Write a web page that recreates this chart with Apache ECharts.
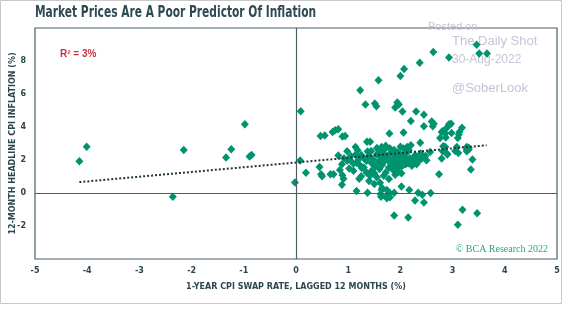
<!DOCTYPE html>
<html>
<head>
<meta charset="utf-8">
<script src="https://cdn.jsdelivr.net/npm/echarts@6/dist/echarts.min.js"></script>
<style>
html,body{margin:0;padding:0;background:#fff;}
#chart{width:564px;height:333px;}
</style>
</head>
<body>
<div id="chart"></div>
<script>
// 1-year CPI swap rate, lagged 12 months (%)
const swapRate = [
-4.15,-4.01,-2.36,-2.15,-1.34,-1.24,-0.98,-0.89,-0.85,-0.02,0.09,0.08,
2.63,2.93,3.46,3.51,3.66,2.37,2.07,2.00,1.58,1.23,1.33,1.51,1.54,1.94,1.97,1.90,2.04,2.30,2.45,2.20,
2.60,2.64,2.62,2.45,2.89,2.93,2.81,2.86,2.97,3.18,2.98,3.12,3.10,2.76,2.87,1.79,2.06,
0.47,0.55,0.70,0.75,0.81,0.89,0.94,1.36,1.42,0.98,1.14,1.18,2.38,0.81,1.64,1.72,1.80,2.13,2.16,2.57,
2.84,3.27,3.31,2.79,3.13,2.82,3.08,3.05,2.90,2.79,3.38,3.35,2.74,3.11,2.20,2.06,2.12,
0.19,0.45,0.48,0.50,0.66,0.72,0.88,0.84,0.89,0.91,0.88,1.03,1.10,1.02,1.16,1.23,1.26,1.25,1.21,1.16,
1.37,1.40,1.37,1.61,1.64,1.62,1.74,1.79,1.74,1.80,1.88,1.88,2.02,2.15,2.17,2.28,2.34,2.42,2.45,2.58,
3.19,3.47,3.10,1.50,1.65,1.63,1.74,2.02,1.96,1.90,
1.30,1.35,1.40,1.45,1.48,1.52,1.55,1.58,1.60,1.62,1.65,1.68,1.70,1.72,1.75,1.78,1.80,1.82,1.85,1.86,
1.88,1.90,1.92,1.94,1.96,1.98,2.00,2.02,2.05,2.08,2.10,2.12,2.15,2.18,2.22,2.25,1.50,1.55,1.45,1.35,
1.30,1.20,1.15,1.10,1.05,0.98,0.92,1.42,1.68,1.78,1.70,1.60,1.88,1.95,2.28,2.34,2.41,2.50,2.31,1.44,
1.25,1.55,2.00,2.05,2.39,2.30,2.48,2.86,2.81,2.89,3.27,3.31,3.27,1.92,1.98,2.05,2.10,2.15
];
// 12-month headline CPI inflation (%)
const cpiInflation = [
1.93,2.81,-0.22,2.61,2.15,2.65,4.16,2.21,2.31,0.64,4.96,1.97,
8.54,8.21,8.98,8.45,8.45,7.89,7.51,7.09,6.83,6.22,5.36,5.42,5.26,5.48,5.36,5.18,4.94,4.94,4.74,4.36,
4.34,4.20,4.05,4.05,3.96,4.16,3.75,3.60,4.20,3.96,3.63,3.55,3.33,3.33,3.36,3.61,3.67,
3.45,3.49,3.69,3.80,3.86,3.43,3.45,3.11,3.11,2.53,2.79,2.59,3.05,2.27,2.79,2.87,2.69,2.79,2.59,2.49,
2.79,2.63,2.75,3.69,3.69,2.83,2.79,2.55,2.33,2.09,2.03,1.43,1.13,2.43,2.89,2.69,2.63,
1.23,1.57,1.14,1.02,1.14,1.14,1.75,1.39,1.08,0.86,0.50,2.03,1.79,1.49,1.83,1.67,1.52,1.02,0.86,0.12,
2.51,0.72,0.02,0.62,0.18,-0.06,0.18,0.02,-0.18,-0.25,0.02,-1.37,0.40,-1.48,0.18,-0.45,0.02,-0.11,-0.57,0.00,
-1.01,-1.22,-1.93,0.54,0.30,-0.22,-0.32,1.19,1.28,1.10,
2.10,1.95,2.25,1.80,2.05,1.60,2.35,1.90,1.45,2.15,1.70,2.40,1.95,1.25,2.20,1.55,1.85,2.45,2.05,1.40,
1.70,2.25,1.95,1.55,2.10,1.80,2.35,1.60,1.95,2.20,1.75,2.45,1.90,2.10,1.65,2.00,1.20,0.95,1.35,1.25,
1.55,2.05,2.35,1.35,2.25,1.95,2.10,1.05,1.05,0.85,2.65,2.55,2.60,2.45,2.29,1.89,2.09,1.99,1.75,2.55,
2.30,2.72,2.80,2.15,2.39,2.19,2.25,2.79,2.53,2.39,2.79,2.63,2.53,2.05,2.30,1.70,2.00,1.80
];
// Trend line end points
const trendX = [-4.15, 3.65];
const trendY = [0.66, 2.89];
const xTicks = [-5, -4, -3, -2, -1, 0, 1, 2, 3, 4, 5];
const yTicks = [-4, -2, 0, 2, 4, 6, 8, 10];

const pts = swapRate.map((x, i) => [x, cpiInflation[i]]);
const trend = trendX.map((x, i) => [x, trendY[i]]);

const axisCol = '#4a5f66';
const textCol = '#2c4650';
const chart = echarts.init(document.getElementById('chart'), null, {renderer: 'canvas'});
chart.setOption({
  animation: false,
  backgroundColor: '#fff',
  grid: {left: 35, right: 7, top: 28, bottom: 74, show: true, borderColor: axisCol, borderWidth: 1.2,
         backgroundColor: 'transparent', containLabel: false, outerBoundsMode: 'none'},
  xAxis: {
    type: 'value', min: xTicks[0], max: xTicks[xTicks.length - 1], interval: 1,
    axisLine: {show: false, onZero: false}, axisTick: {show: false}, splitLine: {show: false},
    axisLabel: {color: textCol, fontSize: 8, fontWeight: 'bold', margin: 8, fontFamily: 'DejaVu Sans, sans-serif'},
    name: '1-YEAR CPI SWAP RATE, LAGGED 12 MONTHS (%)', nameLocation: 'middle', nameGap: 24, nameMoveOverlap: false,
    nameTextStyle: {color: textCol, fontSize: 8, fontWeight: 'bold', fontFamily: 'DejaVu Sans, sans-serif'}
  },
  yAxis: {
    type: 'value', min: yTicks[0], max: yTicks[yTicks.length - 1], interval: 2,
    axisLine: {show: false, onZero: false}, axisTick: {show: false}, splitLine: {show: false},
    axisLabel: {color: textCol, fontSize: 8, fontWeight: 'bold', margin: 9, showMinLabel: false, showMaxLabel: false, fontFamily: 'DejaVu Sans, sans-serif'},
    name: '12-MONTH HEADLINE CPI INFLATION (%)', nameLocation: 'middle', nameGap: 18, nameMoveOverlap: false,
    nameTextStyle: {color: textCol, fontSize: 8, fontWeight: 'bold', fontFamily: 'DejaVu Sans, sans-serif'}
  },
  series: [
    {
      type: 'scatter', data: pts, symbol: 'diamond', symbolSize: [8, 8.5],
      itemStyle: {color: '#00936f', opacity: 1}, z: 2,
      markLine: {
        silent: true, symbol: 'none', label: {show: false},
        lineStyle: {color: axisCol, type: 'solid', width: 1.2},
        data: [{xAxis: 0}, {yAxis: 0}]
      }
    },
    {
      type: 'line', data: trend, symbol: 'none', z: 5,
      lineStyle: {color: '#1f3540', width: 2, type: [2, 2]}
    }
  ],
  graphic: [
    {type: 'rect', shape: {x: 0.5, y: 0.5, width: 561, height: 303}, style: {fill: 'none', stroke: '#c8c8c8', lineWidth: 1}, z: -1},
    {type: 'text', x: 35, y: 6, scaleX: 0.79, style: {text: 'Market Prices Are A Poor Predictor Of Inflation', fill: '#2e4a55', font: 'bold 15px "DejaVu Sans Condensed", sans-serif'}},
    {type: 'text', left: 60, top: 49, style: {text: 'R² = 3%', fill: '#c8323c', font: 'bold 10px Liberation Sans, sans-serif'}},
    {type: 'text', left: 428, top: 21, style: {text: 'Posted on', fill: '#c4c4d8', font: '11px Liberation Sans, sans-serif'}},
    {type: 'text', left: 452, top: 35, style: {text: 'The Daily Shot', fill: '#c4c4d8', font: '13px Liberation Sans, sans-serif'}},
    {type: 'text', left: 452, top: 54, style: {text: '30-Aug-2022', fill: '#c4c4d8', font: '12px Liberation Sans, sans-serif'}},
    {type: 'text', left: 452, top: 82, style: {text: '@SoberLook', fill: '#c4c4d8', font: '13px Liberation Sans, sans-serif'}},
    {type: 'text', right: 16, top: 244, style: {text: '© BCA Research 2022', fill: '#2aa47f', font: '10px Liberation Serif, serif'}}
  ]
});
</script>
</body>
</html>
